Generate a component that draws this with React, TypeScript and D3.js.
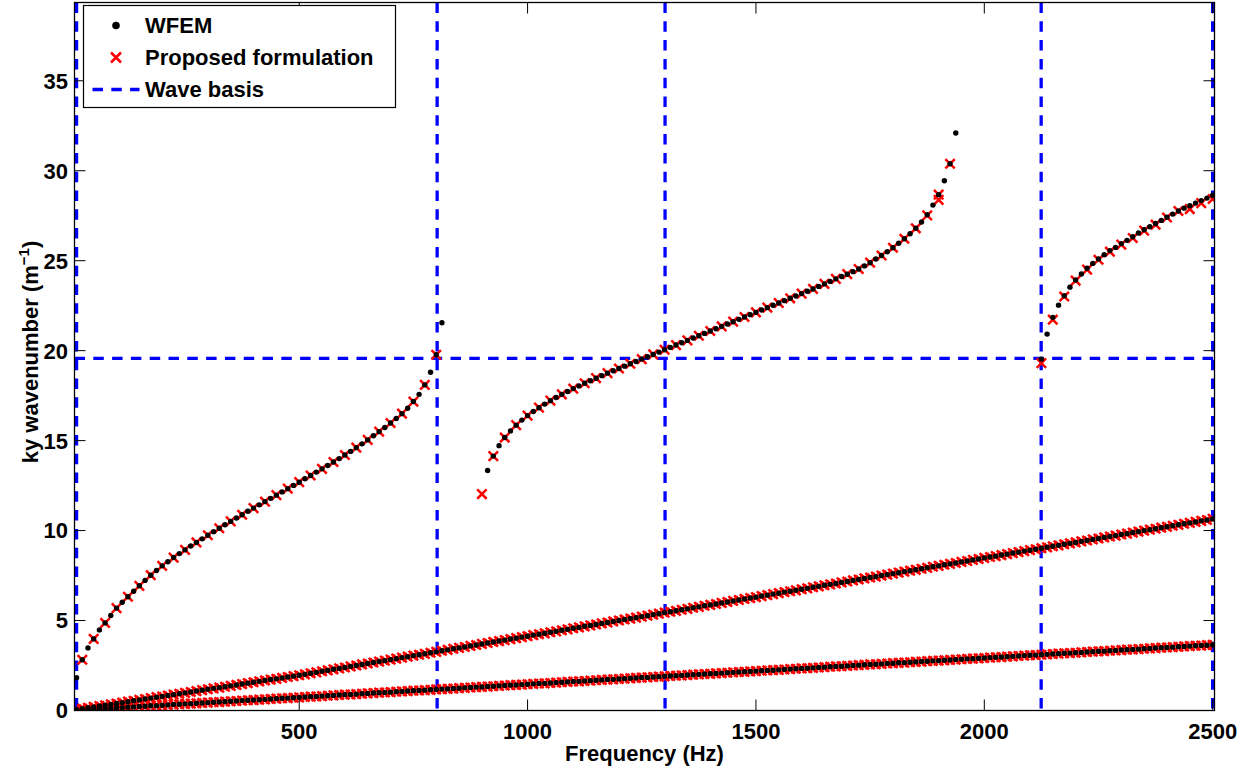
import React from "react";
import * as d3 from "d3";

// ---------- DATA ----------
const xTicks = [500, 1000, 1500, 2000, 2500];
const yTicks = [0, 5, 10, 15, 20, 25, 30, 35];
const xDomain = [8, 2504];
const yDomain = [0, 39.35];

// sampling grid of the WFEM computation (Hz)
const gridStart = 12.5;
const gridStep = 12.5;

// lowest branch (ky, 1/m)
const lowBranch1 = [
  0.02, 0.04, 0.05, 0.07, 0.09, 0.11, 0.13, 0.15, 0.16, 0.18,
  0.20, 0.22, 0.24, 0.26, 0.27, 0.29, 0.31, 0.33, 0.35, 0.37,
  0.38, 0.40, 0.42, 0.44, 0.46, 0.47, 0.49, 0.51, 0.53, 0.55,
  0.57, 0.58, 0.60, 0.62, 0.64, 0.66, 0.68, 0.69, 0.71, 0.73,
  0.75, 0.77, 0.78, 0.80, 0.82, 0.84, 0.86, 0.88, 0.89, 0.91,
  0.93, 0.95, 0.97, 0.99, 1.00, 1.02, 1.04, 1.06, 1.08, 1.10,
  1.11, 1.13, 1.15, 1.17, 1.19, 1.20, 1.22, 1.24, 1.26, 1.28,
  1.30, 1.31, 1.33, 1.35, 1.37, 1.39, 1.41, 1.42, 1.44, 1.46,
  1.48, 1.50, 1.51, 1.53, 1.55, 1.57, 1.59, 1.61, 1.62, 1.64,
  1.66, 1.68, 1.70, 1.72, 1.73, 1.75, 1.77, 1.79, 1.81, 1.83,
  1.84, 1.86, 1.88, 1.90, 1.92, 1.93, 1.95, 1.97, 1.99, 2.01,
  2.03, 2.04, 2.06, 2.08, 2.10, 2.12, 2.14, 2.15, 2.17, 2.19,
  2.21, 2.23, 2.24, 2.26, 2.28, 2.30, 2.32, 2.34, 2.35, 2.37,
  2.39, 2.41, 2.43, 2.45, 2.46, 2.48, 2.50, 2.52, 2.54, 2.56,
  2.57, 2.59, 2.61, 2.63, 2.65, 2.66, 2.68, 2.70, 2.72, 2.74,
  2.76, 2.77, 2.79, 2.81, 2.83, 2.85, 2.87, 2.88, 2.90, 2.92,
  2.94, 2.96, 2.97, 2.99, 3.01, 3.03, 3.05, 3.07, 3.08, 3.10,
  3.12, 3.14, 3.16, 3.18, 3.19, 3.21, 3.23, 3.25, 3.27, 3.29,
  3.30, 3.32, 3.34, 3.36, 3.38, 3.39, 3.41, 3.43, 3.45, 3.47,
  3.49, 3.50, 3.52, 3.54, 3.56, 3.58, 3.60, 3.61, 3.63, 3.65,
];

// second branch
const lowBranch2 = [
  0.05, 0.10, 0.15, 0.20, 0.25, 0.29, 0.34, 0.39, 0.44, 0.49,
  0.54, 0.59, 0.64, 0.69, 0.74, 0.78, 0.83, 0.88, 0.93, 0.98,
  1.03, 1.08, 1.13, 1.18, 1.23, 1.27, 1.32, 1.37, 1.42, 1.47,
  1.52, 1.57, 1.62, 1.67, 1.72, 1.76, 1.81, 1.86, 1.91, 1.96,
  2.01, 2.07, 2.12, 2.18, 2.23, 2.29, 2.34, 2.39, 2.45, 2.50,
  2.56, 2.61, 2.67, 2.72, 2.77, 2.83, 2.88, 2.94, 2.99, 3.05,
  3.10, 3.15, 3.21, 3.26, 3.32, 3.37, 3.43, 3.48, 3.53, 3.59,
  3.64, 3.70, 3.75, 3.81, 3.86, 3.91, 3.97, 4.02, 4.08, 4.13,
  4.19, 4.24, 4.29, 4.35, 4.40, 4.46, 4.51, 4.57, 4.62, 4.68,
  4.73, 4.78, 4.84, 4.89, 4.95, 5.00, 5.06, 5.11, 5.16, 5.22,
  5.27, 5.33, 5.38, 5.44, 5.49, 5.54, 5.60, 5.65, 5.71, 5.76,
  5.82, 5.87, 5.92, 5.98, 6.03, 6.09, 6.14, 6.20, 6.25, 6.30,
  6.36, 6.41, 6.47, 6.52, 6.58, 6.63, 6.68, 6.74, 6.79, 6.85,
  6.90, 6.96, 7.01, 7.06, 7.12, 7.17, 7.23, 7.28, 7.34, 7.39,
  7.44, 7.50, 7.55, 7.61, 7.66, 7.72, 7.77, 7.82, 7.88, 7.93,
  7.99, 8.04, 8.10, 8.15, 8.20, 8.26, 8.31, 8.37, 8.42, 8.48,
  8.53, 8.58, 8.64, 8.69, 8.75, 8.80, 8.86, 8.91, 8.96, 9.02,
  9.07, 9.13, 9.18, 9.24, 9.29, 9.34, 9.40, 9.45, 9.51, 9.56,
  9.62, 9.67, 9.72, 9.78, 9.83, 9.89, 9.94, 10.00, 10.05, 10.10,
  10.16, 10.21, 10.27, 10.32, 10.38, 10.43, 10.48, 10.54, 10.59, 10.65,
];

// upper branch, first segment (12.5 .. 812.5 Hz)
const upperAStart = 12.5;
const upperA = [
  1.82, 2.82, 3.48, 3.98, 4.48, 4.87, 5.28, 5.69, 6.02, 6.32,
  6.63, 6.93, 7.23, 7.52, 7.78, 8.04, 8.27, 8.50, 8.72, 8.93,
  9.14, 9.34, 9.54, 9.74, 9.94, 10.13, 10.32, 10.51, 10.70, 10.88,
  11.07, 11.25, 11.43, 11.61, 11.79, 11.97, 12.15, 12.33, 12.51, 12.69,
  12.88, 13.06, 13.25, 13.43, 13.62, 13.81, 14.00, 14.20, 14.40, 14.61,
  14.82, 15.04, 15.27, 15.50, 15.73, 15.98, 16.23, 16.50, 16.80, 17.17,
  17.57, 18.10, 18.80, 19.77, 21.55,
];

// upper branch, second segment (912.5 .. 1937.5 Hz)
const upperBStart = 912.5;
const upperB = [
  13.34, 14.14, 14.72, 15.17, 15.54, 15.86, 16.14, 16.39,
  16.62, 16.83, 17.03, 17.22, 17.40, 17.57, 17.73, 17.89,
  18.04, 18.19, 18.33, 18.47, 18.61, 18.75, 18.88, 19.01,
  19.14, 19.27, 19.40, 19.53, 19.66, 19.79, 19.92, 20.05,
  20.18, 20.31, 20.44, 20.57, 20.70, 20.83, 20.96, 21.09,
  21.22, 21.35, 21.48, 21.61, 21.74, 21.87, 22.00, 22.13,
  22.26, 22.39, 22.52, 22.65, 22.78, 22.91, 23.04, 23.17,
  23.30, 23.43, 23.57, 23.71, 23.85, 23.99, 24.12, 24.25,
  24.39, 24.54, 24.71, 24.89, 25.09, 25.29, 25.50, 25.72,
  25.97, 26.22, 26.50, 26.80, 27.15, 27.55, 28.09, 28.67,
  29.44, 30.39, 32.10,
];

// upper branch, third segment (2125 .. 2500 Hz)
const upperCStart = 2125;
const upperC = [
  19.53, 20.92, 21.85, 22.53, 23.05, 23.53, 23.93, 24.26, 24.58, 24.85,
  25.10, 25.33, 25.56, 25.74, 25.95, 26.13, 26.33, 26.54, 26.72, 26.89,
  27.07, 27.24, 27.42, 27.59, 27.76, 27.92, 28.06, 28.20, 28.34, 28.48,
  28.64,
];

// proposed formulation on the upper branch (every 25 Hz)
const crossStep = 25;
const crossAStart = 25;
const crossA = [
  2.82, 3.98, 4.87, 5.69, 6.32, 6.93, 7.52, 8.04, 8.50, 8.93,
  9.34, 9.74, 10.13, 10.51, 10.88, 11.25, 11.61, 11.97, 12.33, 12.69,
  13.06, 13.43, 13.81, 14.20, 14.61, 15.04, 15.50, 15.98, 16.50, 17.17,
  18.10, 19.77,
];
const crossBStart = 900;
const crossB = [
  12.03, 14.14, 15.17, 15.86, 16.39, 16.83, 17.22, 17.57, 17.89, 18.19,
  18.47, 18.75, 19.01, 19.27, 19.53, 19.79, 20.05, 20.31, 20.57, 20.83,
  21.09, 21.35, 21.61, 21.87, 22.13, 22.39, 22.65, 22.91, 23.17, 23.43,
  23.71, 23.99, 24.25, 24.54, 24.89, 25.29, 25.72, 26.22, 26.80, 27.52,
  28.67, 30.39,
];
const crossExtraFreq = [1900];
const crossExtra = [28.38];
const crossCStart = 2125;
const crossC = [
  19.31, 21.72, 23.01, 23.89, 24.50, 25.05, 25.50, 25.89, 26.26, 26.67,
  27.00, 27.40, 27.76, 27.87, 28.20, 28.43,
];

// wave basis cut-on lines
const waveBasisFreqs = [12.5, 802, 1301, 2124.5, 2500];
const waveBasisKy = [19.57];

const legendLabels = ["WFEM", "Proposed formulation", "Wave basis"];

// ---------- LAYOUT ----------
const W = 1252;
const H = 771;
const L = 74.5, R = 1214.5, T = 2.5, B = 710.5;
const FONT = "'Liberation Sans', Arial, Helvetica, sans-serif";
const FS = 22;
const BLUE = "#0000ff";
const RED = "#ff0000";

type Pt = { f: number; v: number };
const seq = (start: number, step: number, vals: number[]): Pt[] =>
  vals.map((v, i) => ({ f: start + i * step, v }));

const crossPath = (s: number) => `M${-s},${-s}L${s},${s}M${-s},${s}L${s},${-s}`;

export default function App() {
  const x = d3.scaleLinear().domain(xDomain).range([L, R]);
  const y = d3.scaleLinear().domain(yDomain).range([B, T]);

  const wfem: Pt[] = [
    ...seq(gridStart, gridStep, lowBranch1),
    ...seq(gridStart, gridStep, lowBranch2),
    ...seq(upperAStart, gridStep, upperA),
    ...seq(upperBStart, gridStep, upperB),
    ...seq(upperCStart, gridStep, upperC),
  ];
  const proposed: Pt[] = [
    ...seq(gridStart, gridStep, lowBranch1),
    ...seq(gridStart, gridStep, lowBranch2),
    ...seq(crossAStart, crossStep, crossA),
    ...seq(crossBStart, crossStep, crossB),
    ...crossExtraFreq.map((f, i) => ({ f, v: crossExtra[i] })),
    ...seq(crossCStart, crossStep, crossC),
  ];

  const tickLen = 11;
  const dash = "10.5 8.3";

  return (
    <svg
      width={W}
      height={H}
      style={{ position: "absolute", left: 0, top: 0, background: "#fff" }}
      fontFamily={FONT}
      fontWeight="bold"
    >
      <rect x={0} y={0} width={W} height={H} fill="#fff" />
      <defs>
        <clipPath id="plotclip">
          <rect x={L} y={T} width={R - L} height={B - T} />
        </clipPath>
      </defs>

      <g clipPath="url(#plotclip)">
        {/* wave basis */}
        {waveBasisFreqs.map((f, i) => (
          <line key={"vb" + i} x1={x(f)} x2={x(f)} y1={T} y2={B} stroke={BLUE} strokeWidth={3.3} strokeDasharray={dash} />
        ))}
        {waveBasisKy.map((k, i) => (
          <line key={"hb" + i} x1={L} x2={R} y1={y(k)} y2={y(k)} stroke={BLUE} strokeWidth={3.3} strokeDasharray={dash} />
        ))}
        {/* proposed formulation */}
        <g stroke={RED} strokeWidth={2.5} fill="none">
          {proposed.map((p, i) => (
            <path key={"c" + i} d={crossPath(4.7)} transform={`translate(${x(p.f)},${y(p.v)})`} />
          ))}
        </g>
        {/* WFEM */}
        <g fill="#000">
          {wfem.map((p, i) => (
            <circle key={"d" + i} cx={x(p.f)} cy={y(p.v)} r={2.7} />
          ))}
        </g>
      </g>

      {/* axes box */}
      <rect x={L} y={T} width={R - L} height={B - T} fill="none" stroke="#000" strokeWidth={1.3} />

      {/* x ticks */}
      {xTicks.map((t) => (
        <g key={"xt" + t}>
          <line x1={x(t)} x2={x(t)} y1={B} y2={B - tickLen} stroke="#000" strokeWidth={1} />
          <line x1={x(t)} x2={x(t)} y1={T} y2={T + tickLen} stroke="#000" strokeWidth={1} />
          <text x={x(t)} y={739} textAnchor="middle" fontSize={FS}>{t}</text>
        </g>
      ))}
      {/* y ticks */}
      {yTicks.map((t) => (
        <g key={"yt" + t}>
          <line x1={L} x2={L + tickLen} y1={y(t)} y2={y(t)} stroke="#000" strokeWidth={1} />
          <line x1={R} x2={R - tickLen} y1={y(t)} y2={y(t)} stroke="#000" strokeWidth={1} />
          <text x={68} y={y(t)} dy="0.36em" textAnchor="end" fontSize={FS}>{t}</text>
        </g>
      ))}

      {/* axis labels */}
      <text x={(L + R) / 2} y={761} textAnchor="middle" fontSize={FS}>Frequency (Hz)</text>
      <text transform={`translate(37.5,352) rotate(-90)`} textAnchor="middle" fontSize={FS}>
        ky wavenumber (m<tspan dy={-9} fontSize={15}>−1</tspan><tspan dy={9}>)</tspan>
      </text>

      {/* legend */}
      <g>
        <rect x={83.5} y={5.5} width={312} height={102} fill="#fff" stroke="#000" strokeWidth={1.2} />
        <circle cx={116} cy={25.5} r={3.8} fill="#000" />
        <path d={crossPath(5)} transform="translate(116,57.5)" stroke={RED} strokeWidth={2.6} fill="none" />
        <line x1={92.5} x2={139.5} y1={89.5} y2={89.5} stroke={BLUE} strokeWidth={3.3} strokeDasharray={dash} />
        {legendLabels.map((s, i) => (
          <text key={s} x={145} y={33 + i * 32} fontSize={FS}>{s}</text>
        ))}
      </g>
    </svg>
  );
}
